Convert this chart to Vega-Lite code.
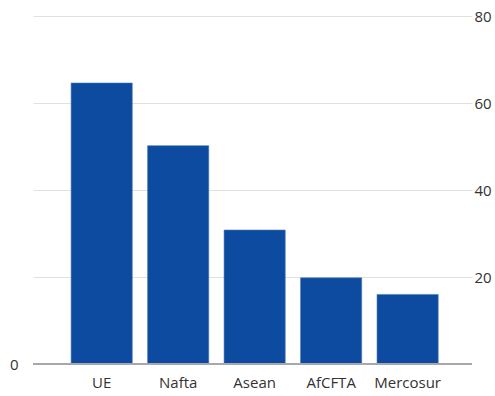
{
  "$schema": "https://vega.github.io/schema/vega-lite/v6.json",
  "width": 439,
  "height": 348,
  "autosize": {"type": "none"},
  "padding": {"left": 33, "top": 16, "right": 23, "bottom": 32},
  "background": "#ffffff",
  "data": {"values": [
    {"bloc": "UE", "value": 64.6},
    {"bloc": "Nafta", "value": 50.2},
    {"bloc": "Asean", "value": 30.8},
    {"bloc": "AfCFTA", "value": 19.8},
    {"bloc": "Mercosur", "value": 16}
  ]},
  "config": {"view": {"stroke": null}, "font": "Open Sans"},
  "layer": [
    {
      "mark": {"type": "bar", "color": "#0c4b9f", "stroke": "#4a78bd", "strokeWidth": 0.6},
      "encoding": {
        "x": {"field": "bloc", "type": "nominal", "sort": null,
          "scale": {"paddingInner": 0.2, "paddingOuter": 0.47, "align": 0.53},
          "axis": {"title": null, "labelAngle": 0, "ticks": false, "domain": false, "labelFontSize": 15, "labelColor": "#333333", "labelPadding": 11}},
        "y": {"field": "value", "type": "quantitative",
          "scale": {"domain": [0, 80], "nice": false},
          "axis": {"orient": "right", "title": null, "values": [20, 40, 60, 80], "ticks": false, "domain": false, "labelPadding": 2, "labelFontSize": 15, "labelColor": "#333333", "gridColor": "#e0e0e0", "labelAlign": "left", "labelBaseline": "middle"}}
      }
    },
    {
      "mark": {"type": "rule", "color": "#a8a8a8", "strokeWidth": 2},
      "encoding": {
        "y": {"datum": 0, "type": "quantitative",
          "axis": {"orient": "left", "title": null, "values": [0], "grid": false, "ticks": false, "domain": false, "labelPadding": 15, "labelFontSize": 15, "labelColor": "#333333"}}
      }
    }
  ],
  "resolve": {"axis": {"y": "independent"}}
}
